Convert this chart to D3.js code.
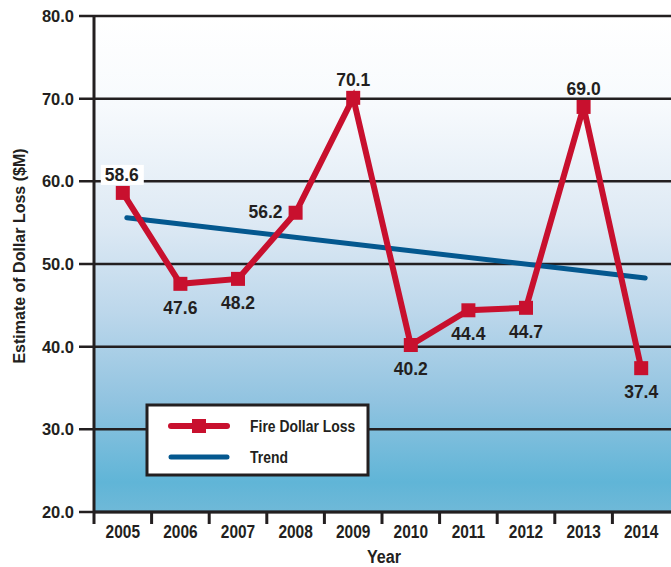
<!DOCTYPE html>
<html><head><meta charset="utf-8">
<script src="https://cdn.jsdelivr.net/npm/d3@7"></script>
<style>
html,body{margin:0;padding:0;background:#fff;}
svg{display:block;}
</style></head>
<body>
<svg id="chart" width="671" height="567"></svg>
<script>
const years = ["2005","2006","2007","2008","2009","2010","2011","2012","2013","2014"];
const fireLoss = [58.6, 47.6, 48.2, 56.2, 70.1, 40.2, 44.4, 44.7, 69.0, 37.4];
const trendYears = ["2005","2014"];
const trendValues = [55.6, 48.3];
const yTicks = [20, 30, 40, 50, 60, 70, 80];
const seriesNames = ["Fire Dollar Loss", "Trend"];
// label placement: "above", "below", "left"
const labelPlace = ["above","below","below","left","above","below","below","below","above","below"];

const svg = d3.select("#chart");
const m = {left: 94, right: 671, top: 16, bottom: 512};
const x = d3.scaleBand().domain(years).range([m.left, 670]);
const y = d3.scaleLinear().domain([20, 80]).range([m.bottom, m.top]);
const red = "#c8102e", blue = "#04588f", ink = "#231f20";
const FONT = "Liberation Sans, Arial, Helvetica, sans-serif";

const defs = svg.append("defs");
const g = defs.append("linearGradient").attr("id","bg").attr("x1",0).attr("y1",0).attr("x2",0).attr("y2",1);
[[0,"#ffffff"],[0.18,"#f7fafd"],[0.42,"#dde9f4"],[0.6,"#bcd7eb"],[0.78,"#90c3e0"],[0.94,"#60b5d7"],[1,"#6fb9d8"]]
  .forEach(([o,c]) => g.append("stop").attr("offset",o).attr("stop-color",c));

svg.append("rect").attr("x", m.left).attr("y", m.top).attr("width", m.right - m.left).attr("height", m.bottom - m.top).attr("fill","url(#bg)");

// horizontal grid + y ticks
svg.append("g").selectAll("line").data(yTicks).join("line")
  .attr("x1", 79).attr("x2", m.right).attr("y1", d => y(d)).attr("y2", d => y(d))
  .attr("stroke", ink).attr("stroke-width", 2.5);

svg.append("g").selectAll("text").data(yTicks).join("text")
  .attr("x", 74).attr("y", d => y(d)).attr("dy", "0.36em").attr("text-anchor","end")
  .attr("font-family", FONT).attr("font-weight","bold").attr("font-size", 16.5)
  .attr("fill", ink).text(d => d.toFixed(1));

// y axis line
svg.append("line").attr("x1", m.left).attr("x2", m.left).attr("y1", m.top - 1).attr("y2", m.bottom + 12)
  .attr("stroke", ink).attr("stroke-width", 3);

// x ticks at band boundaries
const bounds = years.map(d => x(d)).slice(1);
svg.append("g").selectAll("line").data(bounds).join("line")
  .attr("x1", d => d).attr("x2", d => d).attr("y1", m.bottom).attr("y2", m.bottom + 12)
  .attr("stroke", ink).attr("stroke-width", 3);
svg.append("line").attr("x1", m.left).attr("x2", m.right).attr("y1", m.bottom).attr("y2", m.bottom)
  .attr("stroke", ink).attr("stroke-width", 3);

svg.append("g").selectAll("text").data(years).join("text")
  .attr("transform", d => `translate(${x(d) + x.bandwidth()/2},538) scale(0.86,1)`).attr("text-anchor","middle")
  .attr("font-family", FONT).attr("font-weight","bold").attr("font-size", 18)
  .attr("fill", ink).text(d => d);

// axis titles
svg.append("text").attr("transform","translate(384,563) scale(0.85,1)").attr("text-anchor","middle")
  .attr("font-family", FONT).attr("font-weight","bold").attr("font-size", 19)
  .attr("fill", ink).text("Year");
svg.append("text").attr("transform","translate(25,256) rotate(-90)").attr("text-anchor","middle")
  .attr("font-family", FONT).attr("font-weight","bold").attr("font-size", 16)
  .attr("fill", ink).text("Estimate of Dollar Loss ($M)");

// trend line
const cx = d => x(d) + x.bandwidth()/2;
svg.append("path").datum(trendYears.map((d,i) => [d, trendValues[i]]))
  .attr("d", d3.line().x(d => cx(d[0]) + 4).y(d => y(d[1])))
  .attr("fill","none").attr("stroke", blue).attr("stroke-width", 5).attr("stroke-linecap","round");

// fire loss line
const pts = years.map((d,i) => [d, fireLoss[i]]);
svg.append("path").datum(pts)
  .attr("d", d3.line().x(d => cx(d[0])).y(d => y(d[1])))
  .attr("fill","none").attr("stroke", red).attr("stroke-width", 6).attr("stroke-linejoin","miter");
svg.append("g").selectAll("rect").data(pts).join("rect")
  .attr("x", d => cx(d[0]) - 7).attr("y", d => y(d[1]) - 7).attr("width", 14).attr("height", 14).attr("fill", red);

// labels
const lab = svg.append("g");
pts.forEach((d,i) => {
  const p = labelPlace[i];
  let lx = cx(d[0]), ly = y(d[1]), anchor = "middle";
  if (p === "above") ly -= 12;
  else if (p === "below") ly += 30;
  else { lx -= 13; anchor = "end"; }
  if (i === 0) {
    lab.append("rect").attr("x", lx - 22).attr("y", ly - 16).attr("width", 43).attr("height", 20).attr("fill", "#fff");
    lx -= 1;
  }
  lab.append("text").attr("x", lx).attr("y", ly).attr("text-anchor", anchor)
    .attr("dy", p === "left" ? "0.32em" : 0)
    .attr("font-family", FONT).attr("font-weight","bold").attr("font-size", 17.5)
    .attr("fill", ink).text(d[1].toFixed(1));
});

// legend
const lg = svg.append("g");
lg.append("rect").attr("x", 147).attr("y", 405).attr("width", 221).attr("height", 70)
  .attr("fill","#fff").attr("stroke", ink).attr("stroke-width", 3);
lg.append("line").attr("x1", 171).attr("x2", 227).attr("y1", 426).attr("y2", 426)
  .attr("stroke", red).attr("stroke-width", 6).attr("stroke-linecap","round");
lg.append("rect").attr("x", 192).attr("y", 419).attr("width", 14).attr("height", 14).attr("fill", red);
lg.append("line").attr("x1", 171).attr("x2", 227).attr("y1", 457).attr("y2", 457)
  .attr("stroke", blue).attr("stroke-width", 5).attr("stroke-linecap","round");
lg.selectAll("text").data(seriesNames).join("text")
  .attr("transform", (d,i) => `translate(250,${432 + i*31}) scale(0.82,1)`)
  .attr("font-family", FONT).attr("font-weight","bold").attr("font-size", 17)
  .attr("fill", ink).text(d => d);
</script>
</body></html>
